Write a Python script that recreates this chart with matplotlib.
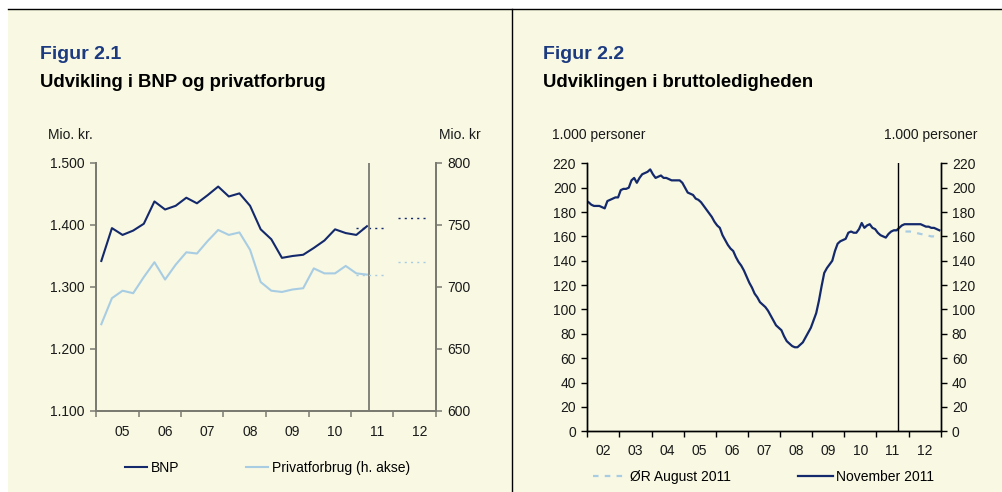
import matplotlib
matplotlib.use("Agg")
import matplotlib.pyplot as plt
from matplotlib.lines import Line2D
from matplotlib.patches import Rectangle
from matplotlib.ticker import FuncFormatter

plt.rcParams['font.family'] = ['Liberation Sans', 'DejaVu Sans']

# ---- data: figur 2.1 (kvartaler 2005K1 - 2011K2) ----
years_21 = ['05', '06', '07', '08', '09', '10', '11', '12']
bnp = [1342, 1395, 1384, 1391, 1402, 1438, 1425, 1431, 1444, 1435, 1448, 1462, 1446,
       1451, 1431, 1393, 1377, 1347, 1350, 1352, 1363, 1375, 1393, 1387, 1384, 1398]
privat = [670, 691, 697, 695, 708, 720, 706, 718, 728, 727, 737, 746, 742,
          744, 730, 704, 697, 696, 698, 699, 715, 711, 711, 717, 711, 710]
prog_years = [6, 7]            # 2011, 2012 (index i years_21)
bnp_prog = [1395, 1412]
privat_prog = [710, 720]

# ---- data: figur 2.2 (maaneder 2002M01 - 2012M12) ----
years_22 = ['02', '03', '04', '05', '06', '07', '08', '09', '10', '11', '12']
nov2011 = [188, 186, 185, 185, 185, 184, 183, 189, 190, 191, 192, 192,
           198, 199, 199, 200, 206, 208, 204, 208, 211, 212, 213, 215,
           211, 208, 209, 210, 208, 208, 207, 206, 206, 206, 206, 204,
           200, 196, 195, 194, 191, 190, 188, 185, 182, 179, 176, 172,
           169, 167, 161, 157, 153, 150, 148, 143, 139, 136, 132, 127,
           122, 118, 113, 110, 106, 104, 102, 99, 95, 91, 87, 85,
           83, 78, 74, 72, 70, 69, 69, 71, 73, 77, 81, 85,
           91, 97, 107, 119, 130, 134, 137, 140, 148, 154, 156, 157,
           158, 163, 164, 163, 163, 166, 171, 167, 169, 170, 167, 166,
           163, 161, 160, 159, 162, 164, 165, 165, 167, 169, 170, 170,
           170, 170, 170, 170, 170, 169, 168, 168, 167, 167, 166, 165]
aug2011_start = 114
aug2011 = [165, 165, 165, 164.5, 164, 164, 164, 163.5, 163, 162.5, 162, 161.5,
           161, 160.5, 160, 160, 159.5, 159]

NAVY = '#14296B'
LIGHT = '#A8CDE3'
TITLE = '#1C3A80'
CREAM = '#F8F8E3'
GREY = '#7A7A72'

W, H = 1002, 492
fig = plt.figure(figsize=(W / 100, H / 100), dpi=100)
fig.patch.set_facecolor('white')


def fx(x):
    return x / W


def fy(y):
    return 1 - y / H


# baggrund og rammer
fig.patches.append(Rectangle((fx(8), 0), 1 - fx(8), fy(9), transform=fig.transFigure,
                             facecolor=CREAM, edgecolor='none', zorder=-10))
fig.lines.append(Line2D([fx(8), 1], [fy(9), fy(9)], transform=fig.transFigure, color='black',
                        lw=1, zorder=-5))
fig.lines.append(Line2D([fx(512), fx(512)], [0, fy(9)], transform=fig.transFigure, color='black',
                        lw=1, zorder=-5))

thousands = FuncFormatter(lambda v, p: f"{int(v):,}".replace(",", "."))

# ================= Figur 2.1 =================
ax1 = fig.add_axes([fx(96), fy(411), fx(436 - 96), fy(163) - fy(411)])
ax1.set_facecolor('none')
xq = [i + 0.5 for i in range(len(bnp))]
l_bnp, = ax1.plot(xq, bnp, color=NAVY, lw=1.5, label='BNP')
for k, v in zip(prog_years, bnp_prog):
    ax1.plot([4 * k + 0.45, 4 * k + 3.3], [v, v], color=NAVY, lw=1, ls=(0, (1.5, 3)))
ax1.axvline(25.7, color=GREY, lw=1.3)
ax1.set_xlim(0, 4 * len(years_21))
ax1.set_ylim(1100, 1500)
ax1.set_yticks(range(1100, 1501, 100))
ax1.yaxis.set_major_formatter(thousands)
ax1.set_xticks(range(0, 4 * len(years_21) + 1, 4))
ax1.set_xticklabels([])
ax1.set_xticks([4 * i + 2.5 for i in range(len(years_21))], minor=True)
ax1.set_xticklabels(years_21, minor=True)
ax1.tick_params(axis='x', which='minor', length=0, pad=10)

ax1b = ax1.twinx()
l_priv, = ax1b.plot(xq, privat, color=LIGHT, lw=1.5, label='Privatforbrug (h. akse)')
for k, v in zip(prog_years, privat_prog):
    ax1b.plot([4 * k + 0.45, 4 * k + 3.3], [v, v], color=LIGHT, lw=1, ls=(0, (1.5, 3)))
ax1b.set_ylim(600, 800)
ax1b.set_yticks(range(600, 801, 50))

for a in (ax1, ax1b):
    for s in a.spines.values():
        s.set_color(GREY)
        s.set_linewidth(1.3)
    a.spines['top'].set_visible(False)
    a.tick_params(which='major', length=4.5, width=1.1, color=GREY, labelsize=10,
                  labelcolor='#1a1a1a', direction='out')
ax1.tick_params(axis='x', which='minor', labelsize=10, labelcolor='#1a1a1a')

fig.text(fx(40), fy(59), 'Figur 2.1', color=TITLE, fontsize=14, fontweight='bold', va='baseline')
fig.text(fx(40), fy(87), 'Udvikling i BNP og privatforbrug', color='black', fontsize=13.3,
         fontweight='bold', va='baseline')
fig.text(fx(48), fy(139), 'Mio. kr.', fontsize=10, va='baseline', color='#1a1a1a')
fig.text(fx(481), fy(139), 'Mio. kr', fontsize=10, va='baseline', ha='right', color='#1a1a1a')

fig.legend(handles=[l_bnp, l_priv], loc='center left', bbox_to_anchor=(fx(125), fy(468)),
           ncol=2, frameon=False, fontsize=10, handlelength=1.56, handletextpad=0.3,
           columnspacing=4.8, borderpad=0, borderaxespad=0)

# ================= Figur 2.2 =================
ax2 = fig.add_axes([fx(587.3), fy(431.3), fx(940.7 - 587.3), fy(163.3) - fy(431.3)])
ax2.set_facecolor('none')
xm = [m + 0.5 for m in range(len(nov2011))]
xa = [aug2011_start + m + 0.5 for m in range(len(aug2011))]
l_aug, = ax2.plot(xa, aug2011, color=LIGHT, lw=1.6, ls=(0, (2.5, 2.8)), label='ØR August 2011')
l_nov, = ax2.plot(xm, nov2011, color=NAVY, lw=1.6, label='November 2011')
ax2.axvline(116, color='black', lw=1)
ax2.set_xlim(0, 12 * len(years_22))
ax2.set_ylim(0, 220)
ax2.set_yticks(range(0, 221, 20))
ax2.set_xticks(range(0, 12 * len(years_22) + 1, 12))
ax2.set_xticklabels([])
ax2.set_xticks([12 * i + 6 for i in range(len(years_22))], minor=True)
ax2.set_xticklabels(years_22, minor=True)
ax2.tick_params(axis='x', which='minor', length=0, pad=9)

ax2b = ax2.twinx()
ax2b.set_ylim(0, 220)
ax2b.set_yticks(range(0, 221, 20))

for a in (ax2, ax2b):
    for s in a.spines.values():
        s.set_color('black')
        s.set_linewidth(1)
    a.spines['top'].set_visible(False)
    a.tick_params(which='major', length=4.5, width=1, color='black', labelsize=10,
                  labelcolor='#1a1a1a', direction='out')
ax2.tick_params(axis='x', which='minor', labelsize=10, labelcolor='#1a1a1a')

fig.text(fx(543), fy(59), 'Figur 2.2', color=TITLE, fontsize=14, fontweight='bold', va='baseline')
fig.text(fx(543), fy(87), 'Udviklingen i bruttoledigheden', color='black', fontsize=13.3,
         fontweight='bold', va='baseline')
fig.text(fx(552), fy(139), '1.000 personer', fontsize=10, va='baseline', color='#1a1a1a')
fig.text(fx(978), fy(139), '1.000 personer', fontsize=10, va='baseline', ha='right', color='#1a1a1a')

fig.legend(handles=[l_aug, l_nov], loc='center left', bbox_to_anchor=(fx(593), fy(477)),
           ncol=2, frameon=False, fontsize=10, handlelength=2.5, handletextpad=0.2,
           columnspacing=4.8, borderpad=0, borderaxespad=0)

fig.savefig('out.png', dpi=100, facecolor=fig.get_facecolor())
